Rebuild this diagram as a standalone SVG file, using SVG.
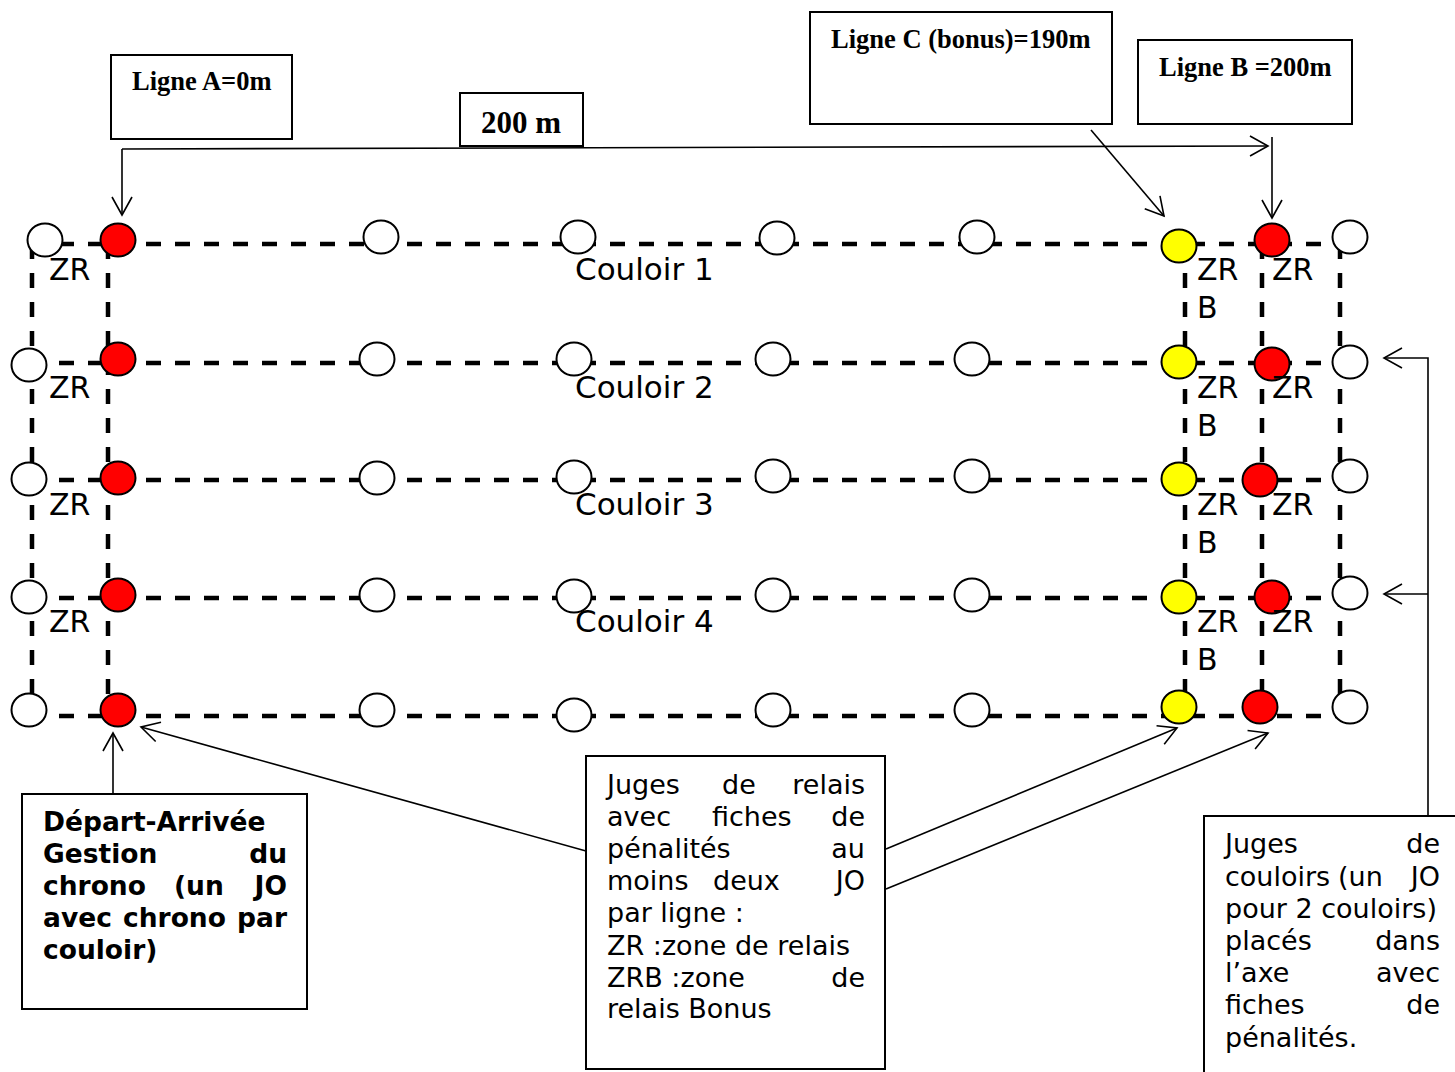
<svg xmlns="http://www.w3.org/2000/svg" width="1455" height="1072" viewBox="0 0 1455 1072">
<style>
.bg{fill:#fff}
.box{fill:#fff;stroke:#000;stroke-width:2}
.trk{fill:none;stroke:#000;stroke-width:4.5;stroke-dasharray:15 14}
.w{fill:#fff;stroke:#000;stroke-width:2}
.r{fill:#ff0000;stroke:#000;stroke-width:2}
.y{fill:#ffff00;stroke:#000;stroke-width:2}
.con{fill:none;stroke:#000;stroke-width:1.6}
.tb{font-family:"Liberation Serif","Times New Roman",serif;font-weight:bold;font-size:26.5px;fill:#000}
.lab{font-family:"DejaVu Sans",Verdana,sans-serif;font-size:30px;fill:#000}
.cou{font-family:"DejaVu Sans",Verdana,sans-serif;font-size:31px;fill:#000}
.t{font-family:"DejaVu Sans",Verdana,sans-serif;font-size:27px;fill:#000}
.tbd{font-family:"DejaVu Sans",Verdana,sans-serif;font-size:26.5px;font-weight:bold;fill:#000}
.e{text-anchor:end}
</style>
<defs>
<marker id="arr" markerUnits="userSpaceOnUse" markerWidth="24" markerHeight="24" viewBox="-20 -12 24 24" refX="0" refY="0" orient="auto" overflow="visible">
<path d="M-18,-10 L0,0 L-18,10" fill="none" stroke="#000" stroke-width="1.6"/>
</marker>
</defs>
<rect class="bg" x="0" y="0" width="1455" height="1072"/>

<g id="track">
<line class="trk" x1="30" y1="244" x2="1340" y2="244"/>
<line class="trk" x1="30" y1="363" x2="1340" y2="363"/>
<line class="trk" x1="30" y1="480" x2="1340" y2="480"/>
<line class="trk" x1="30" y1="598" x2="1340" y2="598"/>
<line class="trk" x1="30" y1="716" x2="1340" y2="716"/>
<line class="trk" x1="32" y1="244" x2="32" y2="716"/>
<line class="trk" x1="108" y1="244" x2="108" y2="716"/>
<line class="trk" x1="1185" y1="244" x2="1185" y2="716"/>
<line class="trk" x1="1262" y1="244" x2="1262" y2="716"/>
<line class="trk" x1="1340" y1="244" x2="1340" y2="716"/>
</g>

<g id="markers-row1">
<ellipse class="w" cx="45" cy="240" rx="17.5" ry="16.5"/>
<ellipse class="r" cx="118" cy="240" rx="17.5" ry="16.5"/>
<ellipse class="w" cx="381" cy="237" rx="17.5" ry="16.5"/>
<ellipse class="w" cx="578" cy="237" rx="17.5" ry="16.5"/>
<ellipse class="w" cx="777" cy="238" rx="17.5" ry="16.5"/>
<ellipse class="w" cx="977" cy="237" rx="17.5" ry="16.5"/>
<ellipse class="y" cx="1179" cy="246" rx="17.5" ry="16.5"/>
<ellipse class="r" cx="1272" cy="240" rx="17.5" ry="16.5"/>
<ellipse class="w" cx="1350" cy="237" rx="17.5" ry="16.5"/>
</g>
<g id="markers-row2">
<ellipse class="w" cx="29" cy="365" rx="17.5" ry="16.5"/>
<ellipse class="r" cx="118" cy="359" rx="17.5" ry="16.5"/>
<ellipse class="w" cx="377" cy="359" rx="17.5" ry="16.5"/>
<ellipse class="w" cx="574" cy="359" rx="17.5" ry="16.5"/>
<ellipse class="w" cx="773" cy="359" rx="17.5" ry="16.5"/>
<ellipse class="w" cx="972" cy="359" rx="17.5" ry="16.5"/>
<ellipse class="y" cx="1179" cy="362" rx="17.5" ry="16.5"/>
<ellipse class="r" cx="1272" cy="364" rx="17.5" ry="16.5"/>
<ellipse class="w" cx="1350" cy="362" rx="17.5" ry="16.5"/>
</g>
<g id="markers-row3">
<ellipse class="w" cx="29" cy="479" rx="17.5" ry="16.5"/>
<ellipse class="r" cx="118" cy="478" rx="17.5" ry="16.5"/>
<ellipse class="w" cx="377" cy="478" rx="17.5" ry="16.5"/>
<ellipse class="w" cx="574" cy="477" rx="17.5" ry="16.5"/>
<ellipse class="w" cx="773" cy="476" rx="17.5" ry="16.5"/>
<ellipse class="w" cx="972" cy="476" rx="17.5" ry="16.5"/>
<ellipse class="y" cx="1179" cy="479" rx="17.5" ry="16.5"/>
<ellipse class="r" cx="1260" cy="480" rx="17.5" ry="16.5"/>
<ellipse class="w" cx="1350" cy="476" rx="17.5" ry="16.5"/>
</g>
<g id="markers-row4">
<ellipse class="w" cx="29" cy="597" rx="17.5" ry="16.5"/>
<ellipse class="r" cx="118" cy="595" rx="17.5" ry="16.5"/>
<ellipse class="w" cx="377" cy="595" rx="17.5" ry="16.5"/>
<ellipse class="w" cx="574" cy="596" rx="17.5" ry="16.5"/>
<ellipse class="w" cx="773" cy="595" rx="17.5" ry="16.5"/>
<ellipse class="w" cx="972" cy="595" rx="17.5" ry="16.5"/>
<ellipse class="y" cx="1179" cy="597" rx="17.5" ry="16.5"/>
<ellipse class="r" cx="1272" cy="597" rx="17.5" ry="16.5"/>
<ellipse class="w" cx="1350" cy="593" rx="17.5" ry="16.5"/>
</g>
<g id="markers-row5">
<ellipse class="w" cx="29" cy="710" rx="17.5" ry="16.5"/>
<ellipse class="r" cx="118" cy="710" rx="17.5" ry="16.5"/>
<ellipse class="w" cx="377" cy="710" rx="17.5" ry="16.5"/>
<ellipse class="w" cx="574" cy="715" rx="17.5" ry="16.5"/>
<ellipse class="w" cx="773" cy="710" rx="17.5" ry="16.5"/>
<ellipse class="w" cx="972" cy="710" rx="17.5" ry="16.5"/>
<ellipse class="y" cx="1179" cy="707" rx="17.5" ry="16.5"/>
<ellipse class="r" cx="1260" cy="707" rx="17.5" ry="16.5"/>
<ellipse class="w" cx="1350" cy="707" rx="17.5" ry="16.5"/>
</g>

<g id="lane-labels">
<text class="cou" x="575" y="280">Couloir 1</text>
<text class="cou" x="575" y="398">Couloir 2</text>
<text class="cou" x="575" y="515">Couloir 3</text>
<text class="cou" x="575" y="632">Couloir 4</text>
<text class="lab" x="49" y="280">ZR</text>
<text class="lab" x="49" y="398">ZR</text>
<text class="lab" x="49" y="515">ZR</text>
<text class="lab" x="49" y="632">ZR</text>
<text class="lab" x="1197" y="280">ZR</text>
<text class="lab" x="1197" y="318">B</text>
<text class="lab" x="1197" y="398">ZR</text>
<text class="lab" x="1197" y="436">B</text>
<text class="lab" x="1197" y="515">ZR</text>
<text class="lab" x="1197" y="553">B</text>
<text class="lab" x="1197" y="632">ZR</text>
<text class="lab" x="1197" y="670">B</text>
<text class="lab" x="1272" y="280">ZR</text>
<text class="lab" x="1272" y="398">ZR</text>
<text class="lab" x="1272" y="515">ZR</text>
<text class="lab" x="1272" y="632">ZR</text>
</g>

<g id="connectors">
<path class="con" d="M122,149 L122,215" marker-end="url(#arr)"/>
<path class="con" d="M122,149 L1268,146" marker-end="url(#arr)"/>
<path class="con" d="M1091,130 L1164,216" marker-end="url(#arr)"/>
<path class="con" d="M1272,137 L1272,218" marker-end="url(#arr)"/>
<path class="con" d="M1428,816 L1428,358 L1384,358" marker-end="url(#arr)"/>
<path class="con" d="M1428,594 L1384,594" marker-end="url(#arr)"/>
<path class="con" d="M113,794 L113,733" marker-end="url(#arr)"/>
<path class="con" d="M586,851 L141,727" marker-end="url(#arr)"/>
<path class="con" d="M886,849 L1177,728" marker-end="url(#arr)"/>
<path class="con" d="M886,889 L1268,733" marker-end="url(#arr)"/>
</g>

<g id="ligneA">
<rect class="box" x="111" y="55" width="181" height="84"/>
<text class="tb" x="132" y="90">Ligne A=0m</text>
</g>
<g id="dist200">
<rect class="box" x="460" y="93" width="123" height="53"/>
<text class="tb" x="481" y="133" style="font-size:31px">200 m</text>
</g>
<g id="ligneC">
<rect class="box" x="810" y="12" width="302" height="112"/>
<text class="tb" x="831" y="48">Ligne C (bonus)=190m</text>
</g>
<g id="ligneB">
<rect class="box" x="1138" y="40" width="214" height="84"/>
<text class="tb" x="1159" y="76">Ligne B =200m</text>
</g>

<g id="depart">
<rect class="box" x="22" y="794" width="285" height="215"/>
<text class="tbd" x="43" y="831">Départ-Arrivée</text>
<text class="tbd" x="43" y="863">Gestion</text>
<text class="tbd e" x="287" y="863">du</text>
<text class="tbd" x="43" y="895">chrono</text>
<text class="tbd" x="174" y="895">(un</text>
<text class="tbd e" x="287" y="895">JO</text>
<text class="tbd" x="43" y="927">avec</text>
<text class="tbd" x="123" y="927">chrono</text>
<text class="tbd e" x="287" y="927">par</text>
<text class="tbd" x="43" y="959">couloir)</text>
</g>

<g id="juges-relais">
<rect class="box" x="586" y="756" width="299" height="313"/>
<text class="t" x="607" y="794">Juges</text>
<text class="t" x="722" y="794">de</text>
<text class="t e" x="865" y="794">relais</text>
<text class="t" x="607" y="826">avec</text>
<text class="t" x="712" y="826">fiches</text>
<text class="t e" x="865" y="826">de</text>
<text class="t" x="607" y="858">pénalités</text>
<text class="t e" x="865" y="858">au</text>
<text class="t" x="607" y="890">moins</text>
<text class="t" x="713" y="890">deux</text>
<text class="t e" x="865" y="890">JO</text>
<text class="t" x="607" y="922">par ligne :</text>
<text class="t" x="607" y="955">ZR :zone de relais</text>
<text class="t" x="607" y="987">ZRB :zone</text>
<text class="t e" x="865" y="987">de</text>
<text class="t" x="607" y="1018">relais Bonus</text>
</g>

<g id="juges-couloirs">
<rect class="box" x="1204" y="816" width="270" height="270"/>
<text class="t" x="1225" y="853">Juges</text>
<text class="t e" x="1440" y="853">de</text>
<text class="t" x="1225" y="886">couloirs</text>
<text class="t" x="1338" y="886">(un</text>
<text class="t e" x="1440" y="886">JO</text>
<text class="t" x="1225" y="918">pour 2 couloirs)</text>
<text class="t" x="1225" y="950">placés</text>
<text class="t e" x="1440" y="950">dans</text>
<text class="t" x="1225" y="982">l’axe</text>
<text class="t e" x="1440" y="982">avec</text>
<text class="t" x="1225" y="1014">fiches</text>
<text class="t e" x="1440" y="1014">de</text>
<text class="t" x="1225" y="1047">pénalités.</text>
</g>
</svg>
